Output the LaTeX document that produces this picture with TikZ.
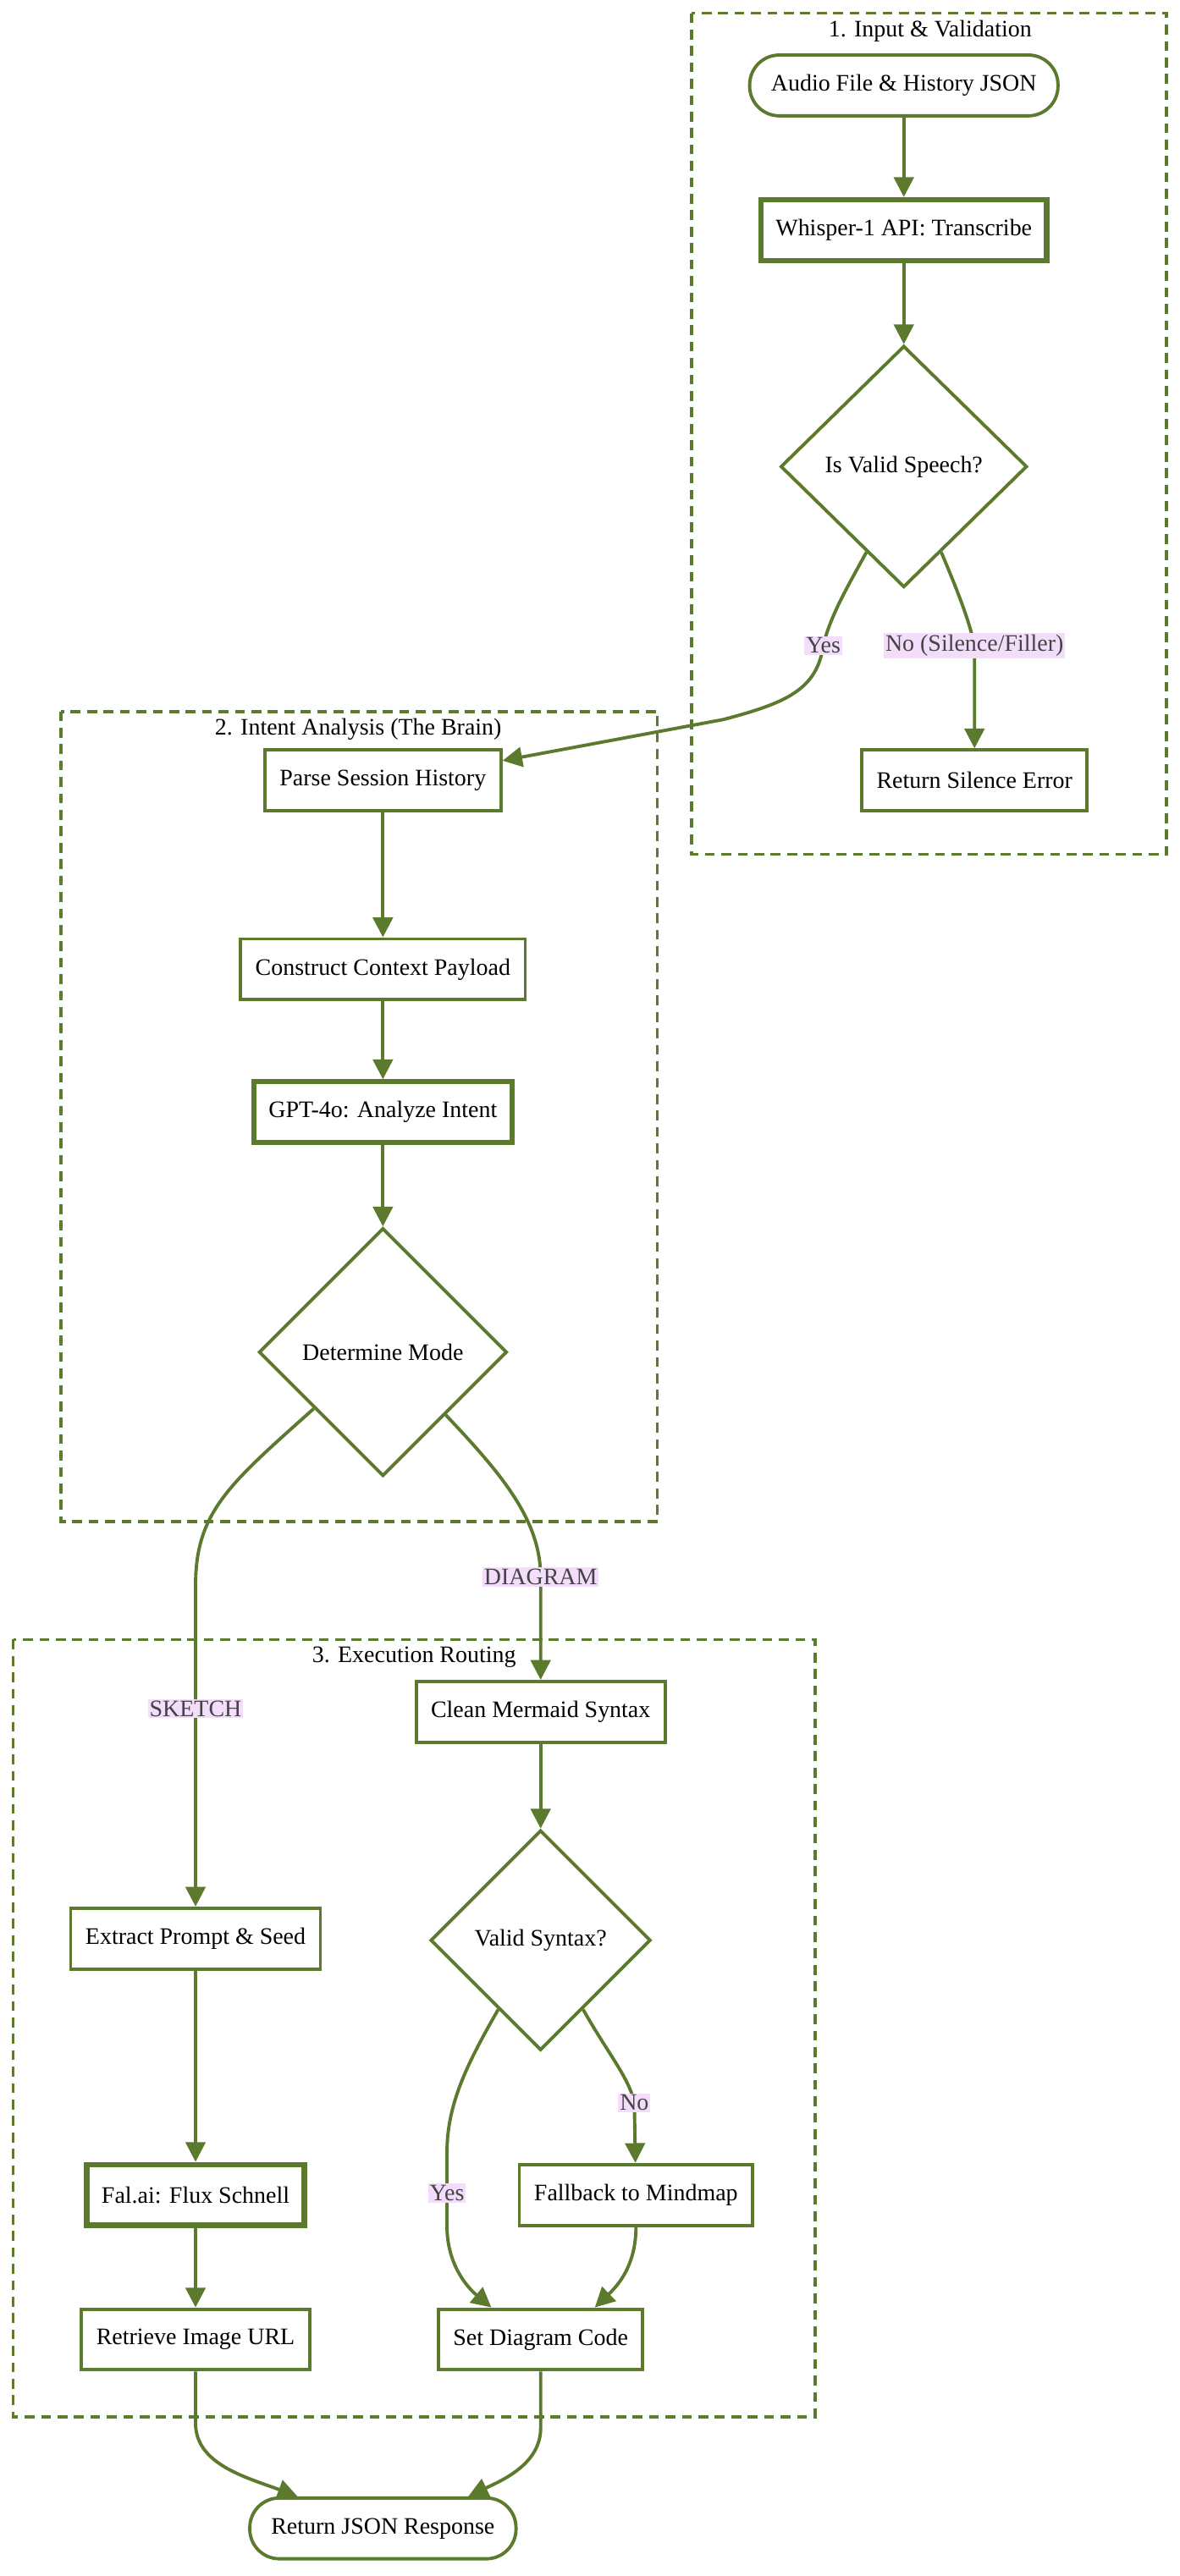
\documentclass[tikz,border=0pt]{standalone}
\usepackage{fontspec}
\setmainfont{Liberation Serif}
\usepackage{xcolor}
\usetikzlibrary{shapes.geometric, arrows.meta, calc}
\definecolor{leaf}{HTML}{5B7A2E}
\definecolor{lilac}{HTML}{F3DDFB}
\definecolor{labtxt}{HTML}{444444}

\begin{document}
\begin{tikzpicture}[x=1pt,y=-1pt,
    font=\fontsize{14.4}{17}\selectfont,
    procbox/.style={draw=leaf, line width=2pt, fill=white, minimum height=37pt, inner xsep=9pt},
    keybox/.style={procbox, line width=3.2pt},
    termbox/.style={procbox, rounded corners=18pt, inner xsep=13pt},
    decbox/.style={draw=leaf, line width=2pt, fill=white, diamond, aspect=1, inner sep=0pt},
    grp/.style={draw=leaf, line width=2pt, dash pattern=on 6pt off 4pt},
    grptitle/.style={anchor=north, inner sep=0pt},
    flow/.style={draw=leaf, line width=2pt, -{Triangle[length=12pt,width=12pt]}},
    elabel/.style={fill=lilac, text=labtxt, inner sep=1pt}]
        \useasboundingbox (0,0) rectangle (718,1568);

        % Groups
        \draw[grp] (421,8) rectangle (710,520);
        \node[grptitle] (t1) at (566,12) {1. Input \& Validation};
        \draw[grp] (37,433) rectangle (400,926);
        \node[grptitle] (t2) at (218,437) {2. Intent Analysis (The Brain)};
        \draw[grp] (8,998) rectangle (496,1471);
        \node[grptitle] (t3) at (252,1002) {3. Execution Routing};

        % Input and validation
        \node[termbox] (aud) at (550,52) {Audio File \& History JSON};
        \node[keybox] (whi) at (550,140) {Whisper-1 API: Transcribe};
        \node[decbox, minimum width=150pt, minimum height=147pt] (isv) at (550,284) {Is Valid Speech?};
        \node[procbox] (rse) at (593,475) {Return Silence Error};

        % Intent analysis
        \node[procbox] (psh) at (233,475) {Parse Session History};
        \node[procbox] (ccp) at (233,590) {Construct Context Payload};
        \node[keybox] (gpt) at (233,677) {GPT-4o: Analyze Intent};
        \node[decbox, minimum size=151pt] (dtm) at (233,823) {Determine Mode};

        % Execution routing
        \node[procbox] (cms) at (329,1042) {Clean Mermaid Syntax};
        \node[decbox, minimum size=134pt] (vsx) at (329,1181) {Valid Syntax?};
        \node[procbox] (eps) at (119,1180) {Extract Prompt \& Seed};
        \node[keybox] (fal) at (119,1336) {Fal.ai: Flux Schnell};
        \node[procbox] (fbm) at (387,1336) {Fallback to Mindmap};
        \node[procbox] (rim) at (119,1424) {Retrieve Image URL};
        \node[procbox] (sdc) at (329,1424) {Set Diagram Code};
        \node[termbox] (rjs) at (233,1539) {Return JSON Response};

        % Connectors
        \draw[flow] (aud) -- (whi);
        \draw[flow] (whi) -- (isv);
        \draw[flow] ($(isv.west)!0.7!(isv.south)$) .. controls (517,355) and (505,375) .. (501,393)
            node[elabel] (lyes1) {Yes} .. controls (497,420) and (478,428) .. (440,438) -- ($(psh.east)+(0,-12)$);
        \draw[flow] ($(isv.south)!0.3!(isv.east)$) .. controls (582,358) and (590,378) .. (593,393)
            node[elabel] (lno1) {No (Silence/Filler)} -- (rse);

        \draw[flow] (psh) -- (ccp);
        \draw[flow] (ccp) -- (gpt);
        \draw[flow] (gpt) -- (dtm);
        \draw[flow] ($(dtm.west)!0.45!(dtm.south)$) .. controls (140,903) and (119,920) .. (119,965)
            -- (119,1040) node[elabel] (lsk) {SKETCH} -- (eps);
        \draw[flow] ($(dtm.south)!0.5!(dtm.east)$) .. controls (305,897) and (329,925) .. (329,960)
            node[elabel] (ldg) {DIAGRAM} -- (cms);

        \draw[flow] (cms) -- (vsx);
        \draw[flow] ($(vsx.west)!0.62!(vsx.south)$) .. controls (285,1255) and (272,1280) .. (272,1310)
            -- (272,1335) node[elabel] (lyes2) {Yes} -- (272,1355)
            .. controls (272,1378) and (284,1392) .. ($(sdc.north)+(-30,0)$);
        \draw[flow] ($(vsx.south)!0.38!(vsx.east)$) .. controls (370,1250) and (383,1265) .. (386,1280)
            node[elabel] (lno2) {No} -- (fbm);
        \draw[flow] (fbm.south) .. controls (387,1380) and (375,1392) .. ($(sdc.north)+(33,0)$);

        \draw[flow] (eps) -- (fal);
        \draw[flow] (fal) -- (rim);
        \draw[flow] (rim.south) -- (119,1475) .. controls (119,1500) and (150,1508) .. ($(rjs.north)+(-52,0)$);
        \draw[flow] (sdc.south) -- (329,1478) .. controls (329,1500) and (305,1510) .. ($(rjs.north)+(52,0)$);
    \end{tikzpicture}
\end{document}
